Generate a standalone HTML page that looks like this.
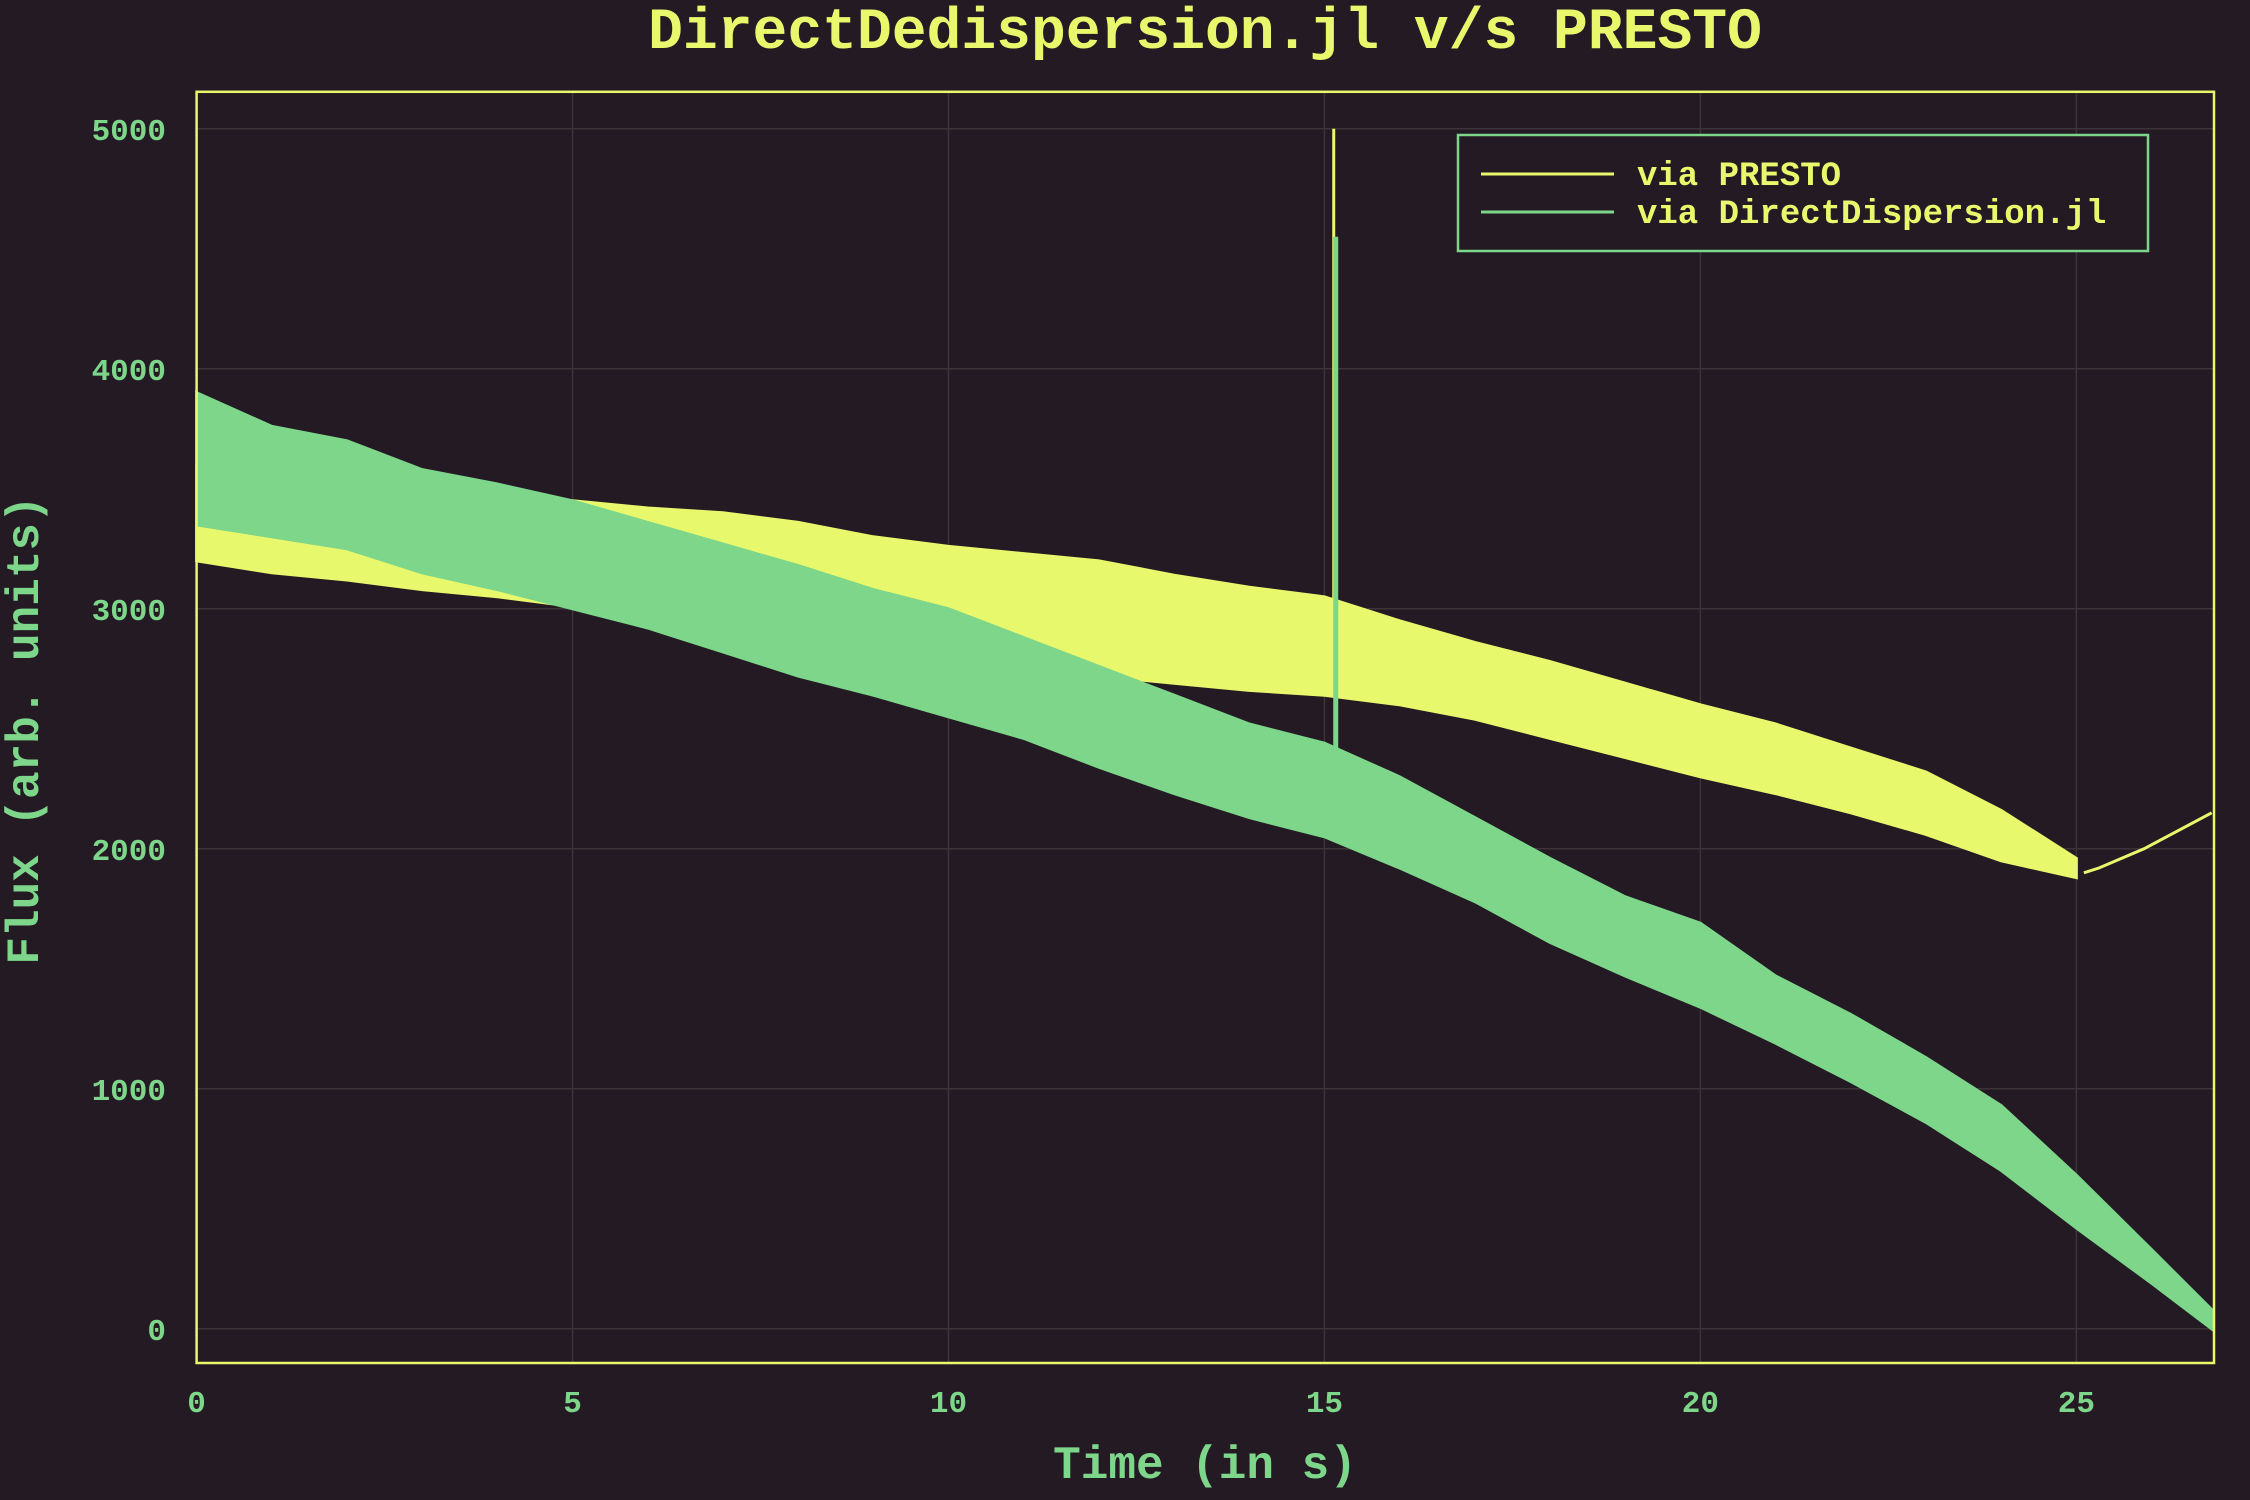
<!DOCTYPE html>
<html><head><meta charset="utf-8"><style>
html,body{margin:0;padding:0;background:#231a24;}
svg{display:block}
text{font-family:"Liberation Mono",monospace;font-weight:bold}
</style></head><body>
<svg id="chart" width="2250" height="1500" viewBox="0 0 2250 1500" xmlns="http://www.w3.org/2000/svg">
<rect width="2250" height="1500" fill="#231a24"/>
<text x="1205" y="48" text-anchor="middle" font-size="58" fill="#e8f86c">DirectDedispersion.jl v/s PRESTO</text>
<g id="grid"></g><g id="series"></g><g id="axes"></g>
<text x="1205" y="1478" text-anchor="middle" font-size="46" fill="#7dd68a">Time (in s)</text>
<text transform="translate(38,730) rotate(-90)" text-anchor="middle" font-size="46" fill="#7dd68a">Flux (arb. units)</text>
<g>
<rect x="1458" y="135" width="690" height="116" fill="#231a24" stroke="#7dd68a" stroke-width="2.5"/>
<line x1="1481" y1="174" x2="1614" y2="174" stroke="#e8f86c" stroke-width="3"/>
<text x="1637" y="185" font-size="34" fill="#e8f86c">via PRESTO</text>
<line x1="1481" y1="212" x2="1614" y2="212" stroke="#7dd68a" stroke-width="3"/>
<text x="1637" y="223" font-size="34" fill="#e8f86c">via DirectDispersion.jl</text>
</g>
</svg>
<script>
const times=[0,1,2,3,4,5,6,7,8,9,10,11,12,13,14,15,16,17,18,19,20,21,22,23,24,25];
const prestoLow=[3200,3150,3120,3080,3050,3010,2990,2950,2920,2880,2850,2780,2720,2690,2660,2640,2600,2540,2460,2380,2300,2230,2150,2060,1950,1880];
const prestoHigh=[3600,3570,3540,3500,3480,3450,3420,3400,3360,3300,3260,3230,3200,3140,3090,3050,2950,2860,2780,2690,2600,2520,2420,2320,2160,1960];
const prestoTailT=[25.1,25.3,25.6,25.9,26.2,26.5,26.8];
const prestoTailV=[1900,1920,1960,2000,2050,2100,2150];
const gTimes=[0,1,2,3,4,5,6,7,8,9,10,11,12,13,14,15,16,17,18,19,20,21,22,23,24,25,26,26.8];
const greenLow=[3350,3300,3250,3150,3080,3000,2920,2820,2720,2640,2550,2460,2340,2230,2130,2050,1920,1780,1610,1470,1340,1190,1030,860,660,420,190,0];
const greenHigh=[3900,3760,3700,3580,3520,3450,3360,3270,3180,3080,3000,2880,2760,2640,2520,2440,2300,2130,1960,1800,1690,1470,1310,1130,930,640,330,80];
const spikeT=15.15, prestoSpike=5000, greenSpike=4550;
const xTicks=[0,5,10,15,20,25];
const yTicks=[0,1000,2000,3000,4000,5000];
const X0=196.6,X1=2214,Y0=91.8,Y1=1363;
const xs=t=>196.6+t*75.19;
const ys=v=>1328.8-v*0.24;
const NS="http://www.w3.org/2000/svg";
function mk(tag,attrs,parent){const e=document.createElementNS(NS,tag);for(const k in attrs)e.setAttribute(k,attrs[k]);parent.appendChild(e);return e;}
const grid=document.getElementById('grid'),ser=document.getElementById('series'),ax=document.getElementById('axes');
xTicks.forEach(t=>{const l=mk('line',{x1:xs(t),x2:xs(t),y1:Y0,y2:Y1,stroke:'#3e3338','stroke-width':1.5},grid);


const tx=mk('text',{x:xs(t),y:1412,'text-anchor':'middle','font-size':31,fill:'#7dd68a'},ax);tx.textContent=t;

});
yTicks.forEach(v=>{const l=mk('line',{x1:X0,x2:X1,y1:ys(v),y2:ys(v),stroke:'#3e3338','stroke-width':1.5},grid);


const tx=mk('text',{x:166,y:ys(v)+11,'text-anchor':'end','font-size':31,fill:'#7dd68a'},ax);tx.textContent=v;

});
function band(tt,lo,hi,col,name){let d='M'+tt.map((t,i)=>xs(t)+','+ys(hi[i])).join('L');
for(let i=tt.length-1;i>=0;i--)d+='L'+xs(tt[i])+','+ys(lo[i]);d+='Z';
const p=mk('path',{d:d,fill:col,stroke:col,'stroke-width':3},ser);

}
band(times,prestoLow,prestoHigh,'#e8f86c','presto-band');
const tail=mk('polyline',{points:prestoTailT.map((t,i)=>xs(t)+','+ys(prestoTailV[i])).join(' '),fill:'none',stroke:'#e8f86c','stroke-width':3},ser);


const ps=mk('line',{x1:xs(spikeT)-2,x2:xs(spikeT)-2,y1:ys(2800),y2:ys(prestoSpike),stroke:'#e8f86c','stroke-width':3},ser);


band(gTimes,greenLow,greenHigh,'#7dd68a','directdispersion-band');
const gs=mk('line',{x1:xs(spikeT),x2:xs(spikeT),y1:ys(2100),y2:ys(greenSpike),stroke:'#7dd68a','stroke-width':5},ser);


const fr=mk('rect',{x:X0,y:Y0,width:X1-X0,height:Y1-Y0,fill:'none',stroke:'#e8f86c','stroke-width':2.5},ax);


</script>
</body></html>
